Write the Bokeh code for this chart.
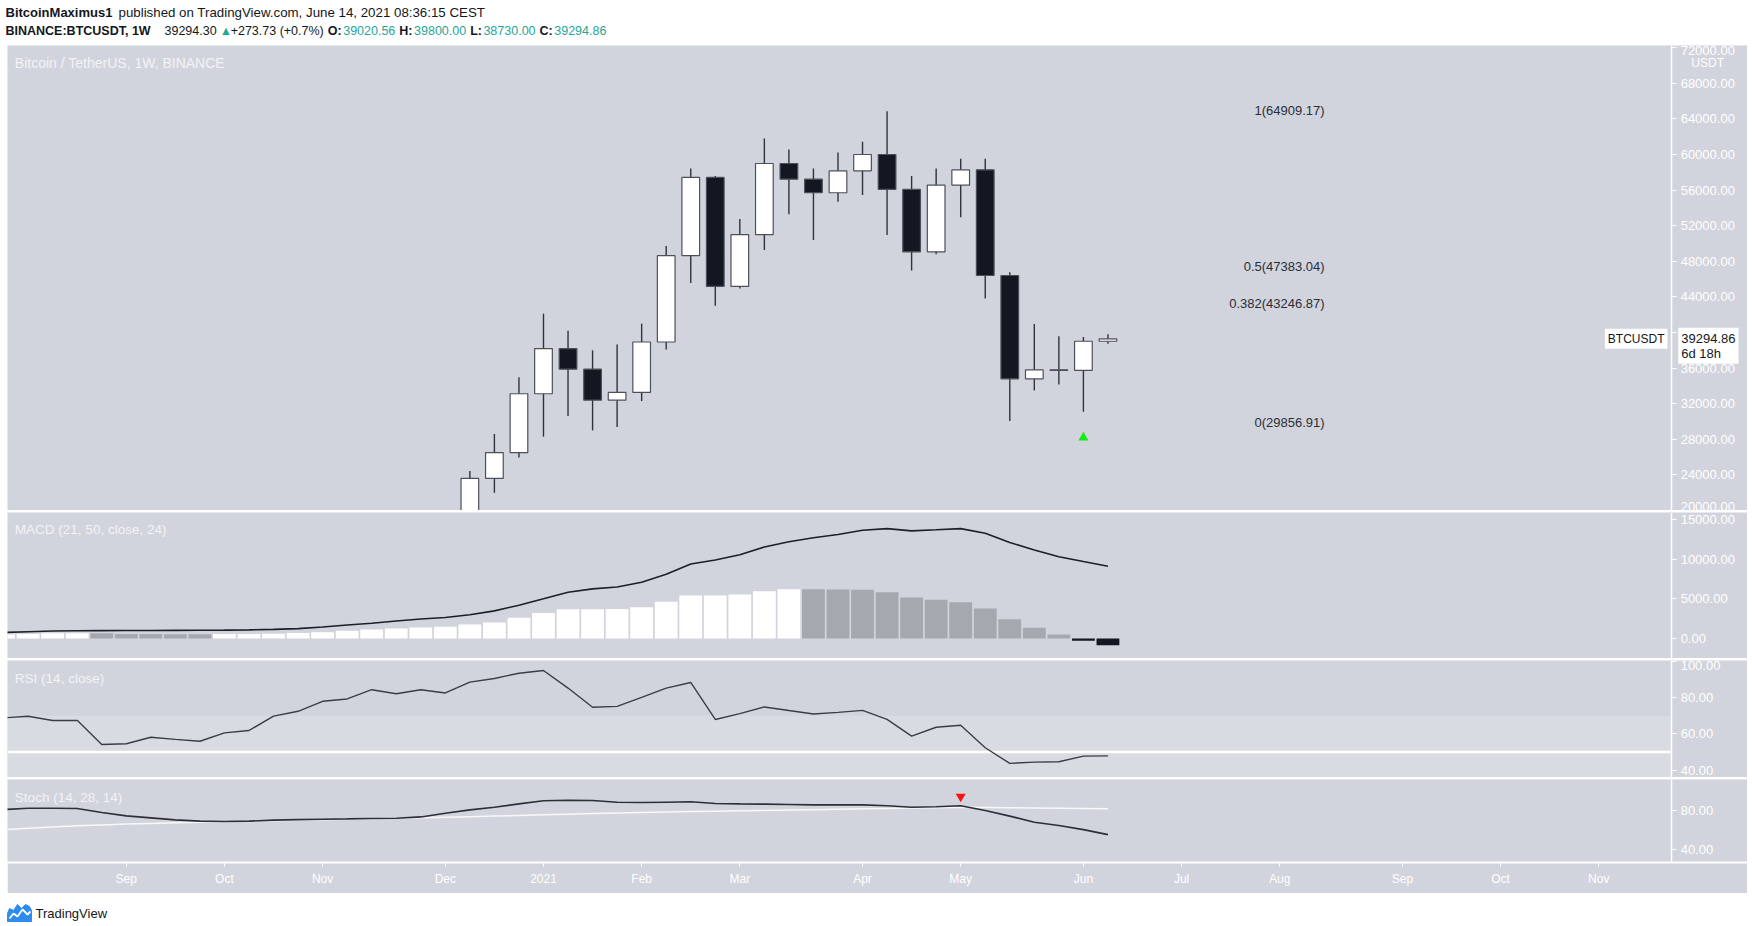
import pandas as pd
import numpy as np
from bokeh.plotting import figure
from bokeh.layouts import column
from bokeh.models import (Range1d, FixedTicker, NumeralTickFormatter, Label, Span,
                          BoxAnnotation, ColumnDataSource)
from bokeh.embed import file_html
from bokeh.resources import INLINE
from bokeh.core.properties import value

# ---------------- data ----------------
BASE = pd.Timestamp("2020-12-07")

candle_weeks = ["2020-12-14", "2020-12-21", "2020-12-28", "2021-01-04", "2021-01-11", "2021-01-18",
                "2021-01-25", "2021-02-01", "2021-02-08", "2021-02-15", "2021-02-22", "2021-03-01",
                "2021-03-08", "2021-03-15", "2021-03-22", "2021-03-29", "2021-04-05", "2021-04-12",
                "2021-04-19", "2021-04-26", "2021-05-03", "2021-05-10", "2021-05-17", "2021-05-24",
                "2021-05-31", "2021-06-07", "2021-06-14"]
opens = [19270, 23600, 26510, 33120, 38200, 35880, 32400, 33270, 38940, 48650, 57430, 45180,
         51010, 59000, 57240, 55710, 58180, 60010, 56090, 49070, 56570, 58290, 46410, 34800,
         35810, 35750, 39020.56]
highs = [24450, 28600, 34980, 42120, 40210, 38000, 38650, 41000, 49740, 58440, 57580, 52760,
         61800, 60570, 58440, 60230, 61430, 64860, 57580, 58440, 59520, 59520, 46790, 40960,
         39580, 39500, 39800.00]
lows = [19000, 21990, 25950, 28300, 30610, 29000, 29380, 32300, 38090, 45560, 43020, 44960,
        49290, 53290, 50410, 54710, 55450, 50970, 46970, 48810, 52950, 43840, 30050, 33490,
        34160, 31100, 38730.00]
closes = [23600, 26510, 33120, 38200, 35880, 32400, 33270, 38940, 48650, 57430, 45180, 51010,
          59000, 57240, 55710, 58180, 60010, 56090, 49070, 56570, 58290, 46410, 34800, 35810,
          35750, 39020.56, 39294.86]

ind_start = "2020-08-03"   # first weekly bar of the indicator panes (46 weeks to 2021-06-14)
macd_hist = [520, 560, 670, 675, 665, 560, 555, 550, 545, 555, 565, 610, 690, 800, 965, 1130,
             1260, 1385, 1470, 1760, 2015, 2600, 3230, 3690, 3700, 3710, 3950, 4620, 5410, 5420,
             5540, 5960, 6210, 6200, 6190, 6130, 5830, 5160, 4870, 4580, 3780, 2430, 1340, 500,
             -290, -840]
macd_line = [760, 860, 940, 970, 990, 1000, 1010, 1020, 1040, 1060, 1090, 1150, 1250, 1450, 1700,
             1920, 2200, 2450, 2650, 3000, 3480, 4200, 5000, 5830, 6250, 6500, 7100, 8100, 9400,
             9900, 10550, 11540, 12200, 12700, 13100, 13640, 13850, 13560, 13700, 13850, 13270,
             12100, 11150, 10300, 9700, 9110]
rsi = [68.9, 69.8, 67.4, 67.5, 54.2, 54.6, 58.2, 57.0, 56.0, 60.6, 61.9, 69.8, 72.5, 78.0, 79.3,
       84.4, 82.2, 84.4, 82.6, 88.6, 90.6, 93.5, 95.0, 85.3, 74.7, 75.2, 80.2, 85.3, 88.4, 68.0,
       71.2, 74.9, 72.9, 71.0, 71.9, 73.0, 68.0, 58.8, 63.7, 64.8, 52.4, 43.8, 44.5, 44.7, 47.8,
       47.9]
stoch_k = [81.0, 82.4, 82.4, 82.0, 78.0, 74.6, 72.5, 70.5, 69.2, 68.8, 69.2, 70.2, 70.8, 71.2,
           71.5, 71.9, 72.2, 73.5, 77.3, 80.7, 83.4, 86.8, 89.9, 90.5, 90.2, 88.5, 88.2, 88.5,
           88.9, 87.2, 86.8, 86.5, 86.1, 85.8, 85.8, 85.8, 84.8, 83.4, 83.8, 84.8, 80.0, 74.3,
           68.1, 64.7, 60.6, 55.5]
stoch_d = [60.5, 62.0, 63.3, 64.4, 65.4, 66.2, 66.9, 67.5, 68.0, 68.5, 68.9, 69.6, 70.1, 70.6,
           71.1, 71.6, 72.1, 72.6, 73.2, 73.8, 74.4, 75.0, 75.7, 76.3, 76.9, 77.4, 77.9, 78.4,
           78.9, 79.3, 79.7, 80.1, 80.5, 80.9, 81.3, 81.7, 82.1, 82.5, 82.9, 83.3, 83.2, 82.9,
           82.6, 82.3, 82.0, 81.7]

fib_levels = [1, 0.5, 0.382, 0]
fib_prices = [64909.17, 47383.04, 43246.87, 29856.91]

buy_signal = ("2021-06-07", 28200)      # green arrow under candle
sell_signal = ("2021-05-03", 94.2)      # red arrow in Stoch pane

tick_dates = ["2020-08-03", "2020-09-07", "2020-10-05", "2020-11-02", "2020-12-07", "2021-01-04",
              "2021-02-01", "2021-03-01", "2021-04-05", "2021-05-03", "2021-06-07", "2021-07-05",
              "2021-08-02", "2021-09-06", "2021-10-04", "2021-11-01"]
tick_labels = ["Aug", "Sep", "Oct", "Nov", "Dec", "2021", "Feb", "Mar", "Apr", "May", "Jun", "Jul",
               "Aug", "Sep", "Oct", "Nov"]

last_price = 39294.86
bar_countdown = "6d 18h"
header_last = "39294.30"
header_change = "+273.73 (+0.7%)"


def widx(dates):
    d = pd.to_datetime(pd.Series(dates))
    return ((d - BASE).dt.days / 7.0).to_numpy()


# ---------------- styling / view ----------------
BG = "#d1d4dc"
BAND = "#d9dbe2"
DARK = "#131722"
TEAL = "#26a69a"
FONT = "Liberation Sans"
X0, X1 = -17.84, 53.06      # visible weeks (frame covers chart + price-scale column)
XAX = 49.97                 # where the price scale sits
x_range = Range1d(X0, X1)

ind_x = widx(pd.date_range(ind_start, periods=len(rsi), freq="7D"))
cx = widx(candle_weeks)


def pane(height, y0, y1, ticks, xaxis=False):
    p = figure(width=1740, height=height, x_range=x_range, y_range=Range1d(y0, y1),
               output_backend="svg", toolbar_location=None, y_axis_location="right",
               x_axis_location=("below" if xaxis else None),
               background_fill_color=BG, border_fill_color=BG, outline_line_color=None,
               min_border_left=0, min_border_right=0, min_border_top=0,
               min_border_bottom=(31 if xaxis else 0))
    p.margin = (0, 0, 0, 7)
    p.grid.visible = False
    ax = p.yaxis[0]
    ax.fixed_location = XAX
    ax.ticker = FixedTicker(ticks=ticks)
    ax.formatter = NumeralTickFormatter(format="0.00")
    ax.axis_line_color = "white"
    ax.axis_line_width = 1.5
    ax.major_tick_line_color = "white"
    ax.major_tick_out = 5
    ax.major_tick_in = 0
    ax.minor_tick_line_color = None
    ax.major_label_text_color = "white"
    ax.major_label_text_font = FONT
    ax.major_label_text_font_size = "13px"
    ax.major_label_standoff = 4
    if xaxis:
        xa = p.xaxis[0]
        ti = [int(round(v)) for v in widx(tick_dates)]
        xa.ticker = FixedTicker(ticks=ti)
        xa.major_label_overrides = {t: l for t, l in zip(ti, tick_labels)}
        xa.axis_line_color = "white"
        xa.axis_line_width = 2
        xa.major_tick_line_color = "white"
        xa.major_tick_out = 4
        xa.major_tick_in = 0
        xa.minor_tick_line_color = None
        xa.major_label_text_color = "white"
        xa.major_label_text_font = FONT
        xa.major_label_text_font_size = "12px"
        xa.major_label_standoff = 5
    return p


def pane_title(p, y, text, size="13.5px"):
    p.add_layout(Label(x=X0 + 0.3, y=y, text=text, text_color="#f2f3f7", text_font=FONT,
                       text_font_size=size, text_baseline="middle"))


# ---------------- main price pane ----------------
main = pane(465, 20000, 72260, list(range(20000, 72001, 4000)))
up = [c >= o for o, c in zip(opens, closes)]
src = ColumnDataSource(dict(
    x=cx, o=opens, h=highs, l=lows, c=closes,
    top=[max(o, c) for o, c in zip(opens, closes)],
    bot=[min(o, c) for o, c in zip(opens, closes)],
    fill=["#ffffff" if u else DARK for u in up]))
main.segment(x0="x", y0="h", x1="x", y1="l", source=src, line_color="#30333c", line_width=1.4)
main.vbar(x="x", top="top", bottom="bot", width=0.72, source=src, fill_color="fill",
          line_color="#4d505a", line_width=1.2)
main.scatter(x=widx([buy_signal[0]]), y=[buy_signal[1]], marker="triangle", size=10,
             color="#12ee12", line_color=None)

fib_text = [f"{format(lv, 'g')}({pr:.2f})" for lv, pr in zip(fib_levels, fib_prices)]
main.text(x=[35.83] * len(fib_prices), y=fib_prices, text=fib_text, text_align="right",
          text_baseline="middle", text_color="#2a2e39", text_font=value(FONT),
          text_font_size="13px")

pane_title(main, 70300, "Bitcoin / TetherUS, 1W, BINANCE", size="14px")
# labels living in the price-scale column
main.add_layout(Label(x=XAX + 0.8, y=70250, text="USDT", text_color="white",
                      text_font=FONT, text_font_size="12px", text_baseline="middle"))
main.add_layout(Label(x=XAX - 0.17, y=last_price, text="BTCUSDT", text_align="right",
                      text_baseline="middle", text_color=DARK, text_font=FONT,
                      text_font_size="12px", background_fill_color="white", padding=3))
main.add_layout(Label(x=XAX + 0.27, y=last_price, y_offset=11,
                      text=f"{last_price:.2f}\n{bar_countdown}", text_align="left",
                      text_baseline="top", text_line_height=1.0, text_color=DARK,
                      text_font=FONT, text_font_size="13px", background_fill_color="white",
                      padding=3))

# ---------------- MACD pane ----------------
macd = pane(146, -2520, 15880, [0, 5000, 10000, 15000])
hist_col = []
for i, h in enumerate(macd_hist):
    prev = macd_hist[i - 1] if i > 0 else h
    if h < 0:
        hist_col.append("#131722")
    elif h >= prev:
        hist_col.append("#ffffff")
    else:
        hist_col.append("#a6a8b0")
macd.vbar(x=ind_x, top=macd_hist, bottom=0, width=0.93, fill_color=hist_col, line_color=None)
macd.line(ind_x, macd_line, line_color="#1c1f27", line_width=1.6)
pane_title(macd, 13740, "MACD (21, 50, close, 24)")

# ---------------- RSI pane ----------------
rsi_p = pane(117, 36.0, 100.5, [40, 60, 80, 100])
rsi_p.add_layout(BoxAnnotation(bottom=30, top=70, left=X0, right=XAX, fill_color=BAND,
                               fill_alpha=1.0, line_color=None, level="underlay"))
rsi_p.segment(x0=[X0], y0=[50], x1=[XAX], y1=[50], line_color="white", line_width=2.5)
rsi_p.line(ind_x, rsi, line_color="#3a3d46", line_width=1.4)
pane_title(rsi_p, 90.7, "RSI (14, close)")

# ---------------- Stoch pane ----------------
st = pane(114, 27.1, 111.6, [40, 80], xaxis=True)
st.line(ind_x, stoch_d, line_color="#f7f8fa", line_width=1.5)
st.line(ind_x, stoch_k, line_color="#2c2f38", line_width=1.6)
st.scatter(x=widx([sell_signal[0]]), y=[sell_signal[1]], marker="inverted_triangle", size=10,
           color="#ff1010", line_color=None)
pane_title(st, 93.3, "Stoch (14, 28, 14)")

# ---------------- header ----------------
hdr = figure(width=1752, height=43, x_range=Range1d(0, 1752), y_range=Range1d(43, 0),
             output_backend="svg", toolbar_location=None, x_axis_location=None,
             y_axis_location=None, min_border=0, outline_line_color=None,
             background_fill_color="white", border_fill_color="white")
hdr.grid.visible = False

REG = {" ": 278, ".": 278, ",": 278, ":": 278, "+": 584, "(": 333, ")": 333, "%": 889, "\u25b2": 640}
for d in "0123456789":
    REG[d] = 556
BLD = dict(REG)
BLD.update({":": 333, "B": 722, "I": 278, "N": 722, "A": 722, "C": 722, "E": 667, "T": 611,
            "U": 722, "S": 667, "D": 722, "W": 944, "O": 778, "H": 722, "L": 611})
FS = 12.5


def tw(s, bold):
    tab = BLD if bold else REG
    return sum(tab.get(ch, 556) for ch in s) * FS / 1000.0 * (1.04 if bold else 1.0)


# (text, bold, colour, preferred x, minimum gap before it)
pieces = [("BINANCE:BTCUSDT, 1W", True, DARK, 5, 0),
          (header_last, False, DARK, 164, 4),
          ("\u25b2", False, TEAL, 217, 3),
          (header_change, False, DARK, 225, 3),
          ("O:", True, DARK, 312, 4), (f"{opens[-1]:.2f}", False, TEAL, 328, 1),
          ("H:", True, DARK, 383, 4), (f"{highs[-1]:.2f}", False, TEAL, 396, 1),
          ("L:", True, DARK, 450, 4), (f"{lows[-1]:.2f}", False, TEAL, 461, 1),
          ("C:", True, DARK, 515, 4), (f"{closes[-1]:.2f}", False, TEAL, 528, 1)]
end = 0.0
for txt, bold, col, px, gap in pieces:
    xpos = max(px, end + gap)
    hdr.text(x=[xpos], y=[30], text=[txt], text_color=col, text_font=value(FONT),
             text_font_size=f"{FS}px", text_font_style=("bold" if bold else "normal"),
             text_baseline="middle")
    end = xpos + tw(txt, bold)

hdr.text(x=[5], y=[12], text=["BitcoinMaximus1"], text_color=DARK, text_font=value(FONT),
         text_font_size="13px", text_font_style="bold", text_baseline="middle")
hdr.text(x=[118], y=[12],
         text=["published on TradingView.com, June 14, 2021 08:36:15 CEST"],
         text_color=DARK, text_font=value(FONT), text_font_size="13.3px", text_baseline="middle")

# ---------------- footer ----------------
ftr = figure(width=1752, height=31, x_range=Range1d(0, 1752), y_range=Range1d(31, 0),
             output_backend="svg", toolbar_location=None, x_axis_location=None,
             y_axis_location=None, min_border=0, outline_line_color=None,
             background_fill_color="white", border_fill_color="white")
ftr.grid.visible = False
ftr.patch([7, 7, 9, 13, 17, 21, 25, 29, 31, 31], [26, 18, 13, 15, 9, 13, 9, 11, 15, 26],
          fill_color="#2e8cf0", line_color="#2e8cf0", line_width=1)
ftr.line([9, 13, 17, 22, 27, 30], [23, 18, 21, 14, 19, 16], line_color="white", line_width=1.8)
ftr.text(x=[35], y=[18], text=["TradingView"], text_color=DARK, text_font=value(FONT),
         text_font_size="13px", text_baseline="middle")

layout = column(hdr, main, macd, rsi_p, st, ftr, spacing=2)
open("out.html", "w").write(file_html(layout, INLINE))
